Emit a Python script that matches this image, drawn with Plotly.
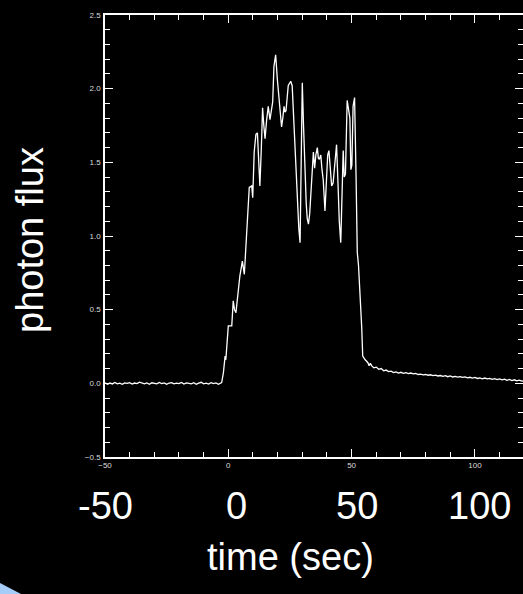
import plotly.graph_objects as go

# Light curve: time (s) and photon flux
pre_time = list(range(-50, -2))
pre_flux = [0.004, -0.006, 0.002, -0.004, 0.006, -0.003, 0.001, -0.007, 0.003, 0.000,
            0.005, -0.005, 0.002, -0.002, 0.008, 0.001, -0.004, 0.003, -0.006, 0.004,
            0.000, -0.003, 0.006, -0.002, 0.003, -0.007, 0.002, 0.005, -0.004, 0.001,
            -0.002, 0.006, -0.005, 0.003, 0.000, -0.004, 0.004, -0.006, 0.002, 0.007,
            -0.003, 0.001, -0.005, 0.004, -0.002, 0.003, -0.006, 0.002]

burst_time = [-2.7, -2.0, -1.3, -1.0, -0.5, 0.0, 1.4, 2.0, 2.5, 3.1, 4.7, 5.7, 6.5, 7.5,
              8.5, 9.5, 9.9, 10.5, 11.2, 11.8, 12.3, 12.8, 13.4, 13.9, 14.4, 14.9, 15.5,
              16.2, 16.9, 17.5, 18.0, 18.5, 19.2, 19.9, 20.5, 21.1, 21.6, 22.1, 22.6, 23.0,
              23.4, 24.3, 25.3, 25.9, 26.5, 27.3, 28.0, 28.6, 29.1, 29.5, 30.0, 30.5, 31.0,
              31.6, 32.0, 32.5, 33.0, 33.8, 34.2, 34.5, 35.0, 35.5, 36.1, 36.5, 36.9, 37.5,
              38.0, 38.5, 39.2, 39.8, 40.3, 40.8, 41.3, 41.9, 42.5, 43.2, 43.9, 44.5, 45.0,
              45.6, 46.1, 46.6, 47.0, 47.5, 48.2, 48.8, 49.3, 49.7, 50.1, 50.6, 51.2, 51.8,
              52.3, 52.8, 53.3, 53.7, 54.1, 54.5, 55.0, 55.5, 56.1, 56.6, 57.1, 57.6, 58.1]
burst_flux = [0.005, 0.07, 0.185, 0.16, 0.25, 0.39, 0.39, 0.56, 0.50, 0.48, 0.73, 0.83, 0.74, 1.00,
              1.33, 1.34, 1.26, 1.57, 1.69, 1.70, 1.50, 1.34, 1.60, 1.87, 1.75, 1.66, 1.78,
              1.88, 1.79, 1.85, 1.91, 2.15, 2.23, 2.06, 1.95, 1.82, 1.74, 1.80, 1.88, 1.84,
              1.85, 2.02, 2.05, 2.02, 1.80, 1.50, 1.25, 1.05, 0.955, 1.50, 2.04, 1.75, 1.45,
              1.22, 1.12, 1.08, 1.15, 1.41, 1.45, 1.57, 1.46, 1.55, 1.60, 1.53, 1.52, 1.55,
              1.45, 1.38, 1.17, 1.40, 1.55, 1.58, 1.45, 1.34, 1.36, 1.50, 1.62, 1.35, 1.10,
              0.955, 1.30, 1.58, 1.40, 1.42, 1.92, 1.85, 1.80, 1.45, 1.48, 1.88, 1.94, 1.41,
              0.89, 0.80, 0.65, 0.59, 0.38, 0.185, 0.17, 0.16, 0.15, 0.14, 0.12, 0.135, 0.12]

post_time = list(range(59, 121))
post_flux = [0.105, 0.110, 0.095, 0.100, 0.085, 0.090, 0.080, 0.083, 0.073, 0.078,
             0.070, 0.075, 0.068, 0.072, 0.066, 0.070, 0.064, 0.067, 0.060, 0.063,
             0.057, 0.060, 0.055, 0.058, 0.052, 0.056, 0.050, 0.053, 0.048, 0.052,
             0.045, 0.050, 0.043, 0.047, 0.042, 0.046, 0.040, 0.044, 0.037, 0.041,
             0.036, 0.040, 0.033, 0.037, 0.031, 0.036, 0.030, 0.034, 0.027, 0.032,
             0.025, 0.030, 0.024, 0.028, 0.020, 0.026, 0.019, 0.024, 0.017, 0.022,
             0.015, 0.018]

big_ticks = [-50, 0, 50, 100]
big_tick_shift = [0, 8, 5, 5]

time = pre_time + burst_time + post_time
flux = pre_flux + burst_flux + post_flux

W, H = 523, 594
ML, MR, MT, MB = 105, 0, 15, 137
PW, PH = W - ML - MR, H - MT - MB

fig = go.Figure()
fig.add_trace(go.Scatter(x=time, y=flux, mode="lines",
                         line=dict(color="white", width=1.3), showlegend=False,
                         hoverinfo="skip"))
fig.add_trace(go.Scatter(x=[], y=[], yaxis="y2", showlegend=False))

tick_font = dict(family="Liberation Sans, Arial, sans-serif", size=8, color="#dddddd")

fig.update_layout(
    width=W, height=H,
    margin=dict(l=ML, r=MR, t=MT, b=MB, pad=0),
    paper_bgcolor="black", plot_bgcolor="black",
    xaxis=dict(range=[-50, 119.5], dtick=50, tick0=0, ticks="inside", ticklen=8,
               tickwidth=1.2, tickcolor="white", showline=True, linecolor="white",
               linewidth=1.5, mirror="ticks", showgrid=False, zeroline=False,
               tickfont=tick_font,
               minor=dict(dtick=10, tick0=0, ticks="inside", ticklen=5,
                          tickcolor="white", tickwidth=1.2, showgrid=False)),
    yaxis=dict(range=[-0.5, 2.5], dtick=0.5, tick0=0, tickformat=".1f",
               ticks="inside", ticklen=8, tickwidth=1.2, tickcolor="white",
               showline=True, linecolor="white", linewidth=1.5, mirror=False,
               showgrid=False, zeroline=False, tickfont=tick_font,
               ticklabelstandoff=1,
               minor=dict(dtick=0.1, tick0=0, ticks="inside", ticklen=5,
                          tickcolor="white", tickwidth=1.2, showgrid=False)),
    yaxis2=dict(range=[-0.5, 2.5], dtick=0.5, tick0=0, overlaying="y", side="right",
                anchor="x", ticks="inside", ticklen=8, tickwidth=1.2,
                tickcolor="white", showline=False, showticklabels=False,
                showgrid=False, zeroline=False,
                minor=dict(dtick=0.1, tick0=0, ticks="inside", ticklen=5,
                           tickcolor="white", tickwidth=1.2, showgrid=False)),
)

big_font = dict(family="Liberation Sans, Arial, sans-serif", size=38, color="white")

for v, sh in zip(big_ticks, big_tick_shift):
    fig.add_annotation(x=v, y=0, xref="x", yref="paper", text=str(v).replace("-", "-"),
                       showarrow=False, xanchor="center", yanchor="middle",
                       xshift=sh, yshift=-(506 - (MT + PH)), font=big_font)

fig.add_annotation(x=(290 - ML) / PW, y=-(557 - (MT + PH)) / PH, xref="paper",
                   yref="paper", text="time (sec)", showarrow=False,
                   xanchor="center", yanchor="middle", font=big_font)
fig.add_annotation(x=(30 - ML) / PW, y=1 - (240 - MT) / PH, xref="paper",
                   yref="paper", text="photon flux", textangle=-90, showarrow=False,
                   xanchor="center", yanchor="middle", font=big_font)


def px(x, y):
    return (x - ML) / PW, 1 - (y - MT) / PH


# Corner of the slide's blue decoration
p0, p1, p2 = px(0, 583), px(21, 594), px(0, 594)
fig.add_shape(type="path", xref="paper", yref="paper",
              path=f"M {p0[0]} {p0[1]} L {p1[0]} {p1[1]} L {p2[0]} {p2[1]} Z",
              fillcolor="#a6cdf7", line=dict(width=0), layer="above")

fig.write_html("out.html")
